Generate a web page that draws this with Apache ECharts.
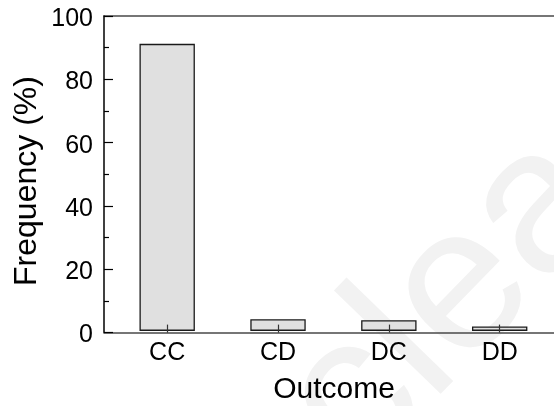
<!DOCTYPE html>
<html>
<head>
<meta charset="utf-8">
<script src="https://cdn.jsdelivr.net/npm/echarts@6/dist/echarts.min.js"></script>
<style>
  html, body { margin: 0; padding: 0; background: #fff; }
  #chart { width: 554px; height: 406px; }
</style>
</head>
<body>
<div id="chart"></div>
<script>
// Outcome frequencies (%) per category
const categories = ['CC', 'CD', 'DC', 'DD'];
const positions = [1, 2, 3, 4];
const frequency = [91.0, 4.0, 3.7, 1.7];
// bars rise from a small floor just above the axis
const barFloor = 0.75;
const yTicks = [0, 20, 40, 60, 80, 100];

const FONT = '"Liberation Sans", Arial, Helvetica, sans-serif';
const BAR_HALF = 0.244; // half bar width in x-axis units

const chart = echarts.init(document.getElementById('chart'), null, { renderer: 'canvas' });

function renderBar(params, api) {
  const x = api.value(0);
  const top = api.value(1);
  const p0 = api.coord([x - BAR_HALF, barFloor]);
  const p1 = api.coord([x + BAR_HALF, top]);
  return {
    type: 'rect',
    shape: { x: p0[0], y: p1[1], width: p1[0] - p0[0], height: p0[1] - p1[1] },
    style: { fill: '#e0e0e0', stroke: '#1a1a1a', lineWidth: 1.3 }
  };
}

chart.setOption({
  backgroundColor: '#ffffff',
  animation: false,
  grid: { left: 104, top: 16, right: 0, height: 316.6, containLabel: false },
  xAxis: [
    {
      type: 'value',
      position: 'bottom',
      min: 0.43,
      max: 4.49,
      z: 5,
      splitLine: { show: false },
      axisLine: { show: true, lineStyle: { color: '#4a4a4a', width: 1.5 } },
      axisTick: {
        show: true, inside: true, length: 8,
        customValues: positions,
        lineStyle: { color: '#333', width: 1.2 }
      },
      axisLabel: {
        customValues: positions,
        formatter: (v) => categories[positions.indexOf(Math.round(v))] || '',
        fontFamily: FONT, fontSize: 25, color: '#000', margin: 8
      }
    },
    {
      type: 'value',
      position: 'top',
      min: 0.43,
      max: 4.49,
      axisLine: { show: true, onZero: false, lineStyle: { color: '#4a4a4a', width: 1.5 } },
      axisTick: { show: false },
      axisLabel: { show: false },
      splitLine: { show: false }
    }
  ],
  yAxis: {
    type: 'value',
    min: yTicks[0],
    max: yTicks[yTicks.length - 1],
    interval: 20,
    z: 5,
    splitLine: { show: false },
    axisLine: { show: true, lineStyle: { color: '#000', width: 1.5 } },
    axisTick: { show: true, inside: true, length: 9, lineStyle: { color: '#000', width: 1.2 } },
    minorTick: { show: true, splitNumber: 2, length: 5, lineStyle: { color: '#000', width: 1.2 } },
    axisLabel: {
      margin: 11,
      formatter: (v) => '{t|' + v + '}',
      rich: {
        t: { fontFamily: FONT, fontSize: 25, color: '#000', padding: [6, 0, 0, 0] }
      }
    }
  },
  graphic: [
    {
      type: 'text', z: -10, silent: true,
      x: 450, y: 303, rotation: 0.8,
      style: {
        text: 'clea', fill: '#f2f2f2',
        font: '205px "Liberation Sans", Arial, sans-serif',
        textAlign: 'center', textVerticalAlign: 'middle'
      }
    },
    {
      type: 'text', z: 10,
      x: 334, y: 390,
      style: {
        text: 'Outcome', fill: '#000',
        font: '30px "Liberation Sans", Arial, sans-serif',
        textAlign: 'center', textVerticalAlign: 'middle'
      }
    },
    {
      type: 'text', z: 10,
      x: 27, y: 181, rotation: Math.PI / 2,
      style: {
        text: 'Frequency (%)', fill: '#000',
        font: '32px "Liberation Sans", Arial, sans-serif',
        textAlign: 'center', textVerticalAlign: 'middle'
      }
    }
  ],
  series: [
    {
      type: 'custom',
      xAxisIndex: 0,
      yAxisIndex: 0,
      renderItem: renderBar,
      encode: { x: 0, y: 1 },
      data: positions.map((p, i) => [p, frequency[i]])
    }
  ]
});
</script>
</body>
</html>
